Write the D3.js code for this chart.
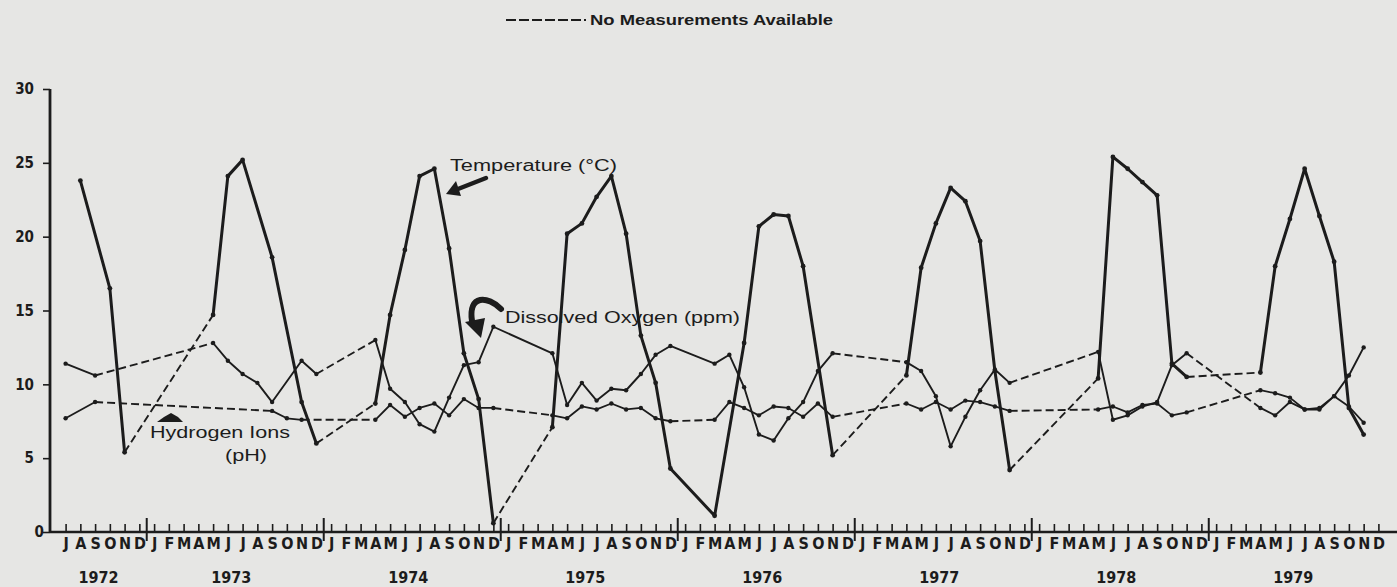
<!DOCTYPE html>
<html><head><meta charset="utf-8">
<script src="https://cdn.jsdelivr.net/npm/d3@7/dist/d3.min.js"></script>
<style>html,body{margin:0;padding:0;background:#e6e6e4;} svg{display:block}</style>
</head><body>
<svg id="c" width="1397" height="587"></svg>
<script>
// ---------- categories / ticks ----------
const years = [1972, 1973, 1974, 1975, 1976, 1977, 1978, 1979];
const monthLetters = ["J","F","M","A","M","J","J","A","S","O","N","D"];
const startMonth = "1972-07";
const yTicks = [0, 5, 10, 15, 20, 25, 30];

// ---------- Temperature (°C) ----------
const tempMonths = ["1972-08","1972-10","1972-11","1973-05","1973-06","1973-07","1973-09","1973-11","1973-12",
  "1974-04","1974-05","1974-06","1974-07","1974-08","1974-09","1974-10","1974-11","1974-12",
  "1975-04","1975-05","1975-06","1975-07","1975-08","1975-09","1975-10","1975-11","1975-12",
  "1976-03","1976-05","1976-06","1976-07","1976-08","1976-09","1976-11",
  "1977-04","1977-05","1977-06","1977-07","1977-08","1977-09","1977-10","1977-11",
  "1978-05","1978-06","1978-07","1978-08","1978-09","1978-10","1978-11",
  "1979-04","1979-05","1979-06","1979-07","1979-08","1979-09","1979-10","1979-11"];
const tempValues = [23.8,16.5,5.4,14.7,24.1,25.2,18.6,8.8,6.0,
  8.7,14.7,19.1,24.1,24.6,19.2,12.1,9.0,0.6,
  7.1,20.2,20.9,22.7,24.1,20.2,13.3,10.1,4.3,
  1.1,12.8,20.7,21.5,21.4,18.0,5.2,
  10.6,17.9,20.9,23.3,22.4,19.7,10.9,4.2,
  10.4,25.4,24.6,23.7,22.8,11.4,10.5,
  10.8,18.0,21.2,24.6,21.4,18.3,8.4,6.6];
const tempNoDataBefore = ["1973-05","1974-04","1975-04","1977-04","1978-05","1979-04"];

// ---------- Dissolved Oxygen (ppm) ----------
const doMonths = ["1972-07","1972-09","1973-05","1973-06","1973-07","1973-08","1973-09","1973-11","1973-12",
  "1974-04","1974-05","1974-06","1974-07","1974-08","1974-09","1974-10","1974-11","1974-12",
  "1975-04","1975-05","1975-06","1975-07","1975-08","1975-09","1975-10","1975-11","1975-12",
  "1976-03","1976-04","1976-05","1976-06","1976-07","1976-08","1976-09","1976-10","1976-11",
  "1977-04","1977-05","1977-06","1977-07","1977-08","1977-09","1977-10","1977-11",
  "1978-05","1978-06","1978-07","1978-08","1978-09","1978-10","1978-11",
  "1979-04","1979-05","1979-06","1979-07","1979-08","1979-09","1979-10","1979-11"];
const doValues = [11.4,10.6,12.8,11.6,10.7,10.1,8.8,11.6,10.7,
  13.0,9.7,8.8,7.3,6.8,9.1,11.3,11.5,13.9,
  12.1,8.6,10.1,8.9,9.7,9.6,10.7,12.0,12.6,
  11.4,12.0,9.8,6.6,6.2,7.7,8.8,10.9,12.1,
  11.5,10.9,9.2,5.8,7.8,9.6,11.0,10.1,
  12.2,7.6,7.9,8.5,8.8,11.3,12.1,
  8.4,7.9,8.8,8.3,8.3,9.2,10.6,12.5];
const doNoDataBefore = ["1973-05","1974-04","1977-04","1978-05","1979-04"];

// ---------- Hydrogen Ions (pH) ----------
const phMonths = ["1972-07","1972-09","1973-09","1973-10","1973-11",
  "1974-04","1974-05","1974-06","1974-07","1974-08","1974-09","1974-10","1974-11","1974-12",
  "1975-04","1975-05","1975-06","1975-07","1975-08","1975-09","1975-10","1975-11","1975-12",
  "1976-03","1976-04","1976-05","1976-06","1976-07","1976-08","1976-09","1976-10","1976-11",
  "1977-04","1977-05","1977-06","1977-07","1977-08","1977-09","1977-10","1977-11",
  "1978-05","1978-06","1978-07","1978-08","1978-09","1978-10","1978-11",
  "1979-04","1979-05","1979-06","1979-07","1979-08","1979-09","1979-10","1979-11"];
const phValues = [7.7,8.8,8.2,7.7,7.6,
  7.6,8.6,7.8,8.4,8.7,7.9,9.0,8.4,8.4,
  7.9,7.7,8.5,8.3,8.7,8.3,8.4,7.7,7.5,
  7.6,8.8,8.4,7.9,8.5,8.4,7.8,8.7,7.8,
  8.7,8.3,8.8,8.3,8.9,8.8,8.5,8.2,
  8.3,8.5,8.1,8.6,8.7,7.9,8.1,
  9.6,9.4,9.1,8.3,8.4,9.2,8.5,7.4];
const phNoDataBefore = ["1973-09","1974-04","1975-04","1976-03","1977-04","1978-05","1979-04"];

// ---------- build month categories ----------
const months = [];
years.forEach(y => monthLetters.forEach((l, i) => {
  const key = y + "-" + String(i + 1).padStart(2, "0");
  if (key >= startMonth) months.push({key, letter: l, year: y});
}));

const ink = "#1c1c1c";
const svg = d3.select("#c");
svg.append("rect").attr("width", 1397).attr("height", 587).attr("fill", "#e6e6e4");

const x = d3.scalePoint().domain(months.map(d => d.key)).range([65.6, 1378.4]);
const y = d3.scaleLinear().domain([0, 30]).range([532, 89]);
const step = x.step();
const axisFont = "'DejaVu Sans Condensed','DejaVu Sans',sans-serif";

// ---------- axes ----------
const gx = svg.append("g").attr("transform", "translate(0,532)")
  .call(d3.axisBottom(x).tickSizeInner(-8).tickSizeOuter(0).tickPadding(6)
    .tickFormat(k => months.find(m => m.key === k).letter));
gx.select(".domain").remove();
gx.selectAll(".tick line").attr("stroke", ink).attr("stroke-width", 1.6);
gx.selectAll(".tick text").attr("fill", ink)
  .style("font-family", axisFont).style("font-weight", "bold").style("font-size", "16px");
svg.append("line").attr("x1", 50).attr("x2", 1397).attr("y1", 532).attr("y2", 532)
  .attr("stroke", ink).attr("stroke-width", 2.6);

// year dividers and year labels
years.forEach(yr => {
  const dec = yr + "-12";
  if (yr < 1979) {
    const xb = x(dec) + step / 2;
    svg.append("line").attr("x1", xb).attr("x2", xb).attr("y1", 518).attr("y2", 541)
      .attr("stroke", ink).attr("stroke-width", 2);
  }
  const ms = months.filter(m => m.year === yr);
  const cx = (x(ms[0].key) + x(ms[ms.length - 1].key)) / 2 - 4;
  svg.append("text").attr("x", cx).attr("y", 583).attr("text-anchor", "middle")
    .attr("fill", ink).style("font-family", axisFont)
    .style("font-weight", "bold").style("font-size", "16px").text(yr);
});

const gy = svg.append("g").attr("transform", "translate(50,0)")
  .call(d3.axisLeft(y).tickValues(yTicks).tickSizeInner(7).tickSizeOuter(0).tickPadding(9)
    .tickFormat(d3.format("d")));
gy.select(".domain").remove();
gy.selectAll(".tick line").attr("stroke", ink).attr("stroke-width", 1.6);
gy.selectAll(".tick text").attr("fill", ink)
  .style("font-family", axisFont).style("font-weight", "bold").style("font-size", "15px")
  .attr("dx", d => d === 0 ? 10 : 0);
svg.append("line").attr("x1", 50).attr("x2", 50).attr("y1", 89).attr("y2", 533)
  .attr("stroke", ink).attr("stroke-width", 2.8);

// ---------- series ----------
function drawSeries(ms, vs, gaps, width, r) {
  const pts = ms.map((m, i) => ({m, v: vs[i], gap: gaps.includes(m)}));
  const line = d3.line().x(d => x(d.m)).y(d => y(d.v));
  let run = [pts[0]];
  const runs = [];
  for (let i = 1; i < pts.length; i++) {
    if (pts[i].gap) {
      runs.push(run);
      svg.append("path").attr("d", line([pts[i - 1], pts[i]])).attr("fill", "none")
        .attr("stroke", ink).attr("stroke-width", 1.9).attr("stroke-dasharray", "8,4");
      run = [pts[i]];
    } else run.push(pts[i]);
  }
  runs.push(run);
  runs.forEach(rn => {
    if (rn.length > 1)
      svg.append("path").attr("d", line(rn)).attr("fill", "none").attr("stroke", ink)
        .attr("stroke-width", width).attr("stroke-linejoin", "round");
  });
  svg.append("g").selectAll("circle").data(pts).join("circle")
    .attr("cx", d => x(d.m)).attr("cy", d => y(d.v)).attr("r", r).attr("fill", ink);
}
drawSeries(phMonths, phValues, phNoDataBefore, 1.8, 2.2);
drawSeries(doMonths, doValues, doNoDataBefore, 1.9, 2.2);
drawSeries(tempMonths, tempValues, tempNoDataBefore, 3, 2.4);

// ---------- legend / annotations ----------
svg.append("line").attr("x1", 506).attr("x2", 586).attr("y1", 20).attr("y2", 20)
  .attr("stroke", ink).attr("stroke-width", 2).attr("stroke-dasharray", "10,3");
const annot = (t, xx, yy, w, size, weight) => svg.append("text").attr("x", xx).attr("y", yy)
  .attr("fill", ink).attr("textLength", w).attr("lengthAdjust", "spacingAndGlyphs")
  .style("font-family", "'Liberation Sans',Arial,sans-serif").style("font-size", size + "px")
  .style("font-weight", weight).text(t);
annot("No Measurements Available", 590, 25, 243, 15, "bold");
annot("Temperature (°C)", 450, 171, 167, 16, "normal");
annot("Dissolved Oxygen (ppm)", 505, 323, 235, 16, "normal");
annot("Hydrogen Ions", 150, 438, 140, 16, "normal");
annot("(pH)", 225, 461, 42, 16, "normal");

// arrows
svg.append("line").attr("x1", 486).attr("y1", 178).attr("x2", 458).attr("y2", 189)
  .attr("stroke", ink).attr("stroke-width", 4.5).attr("stroke-linecap", "round");
svg.append("path").attr("d", "M446,194 L456,181 L461,196 Z").attr("fill", ink);
svg.append("path").attr("d", "M501,309 C488,296 468,294 472,321").attr("fill", "none")
  .attr("stroke", ink).attr("stroke-width", 6).attr("stroke-linecap", "round");
svg.append("path").attr("d", "M481,338 L465,322 L485,318 Z").attr("fill", ink);
svg.append("path").attr("d", "M157,422 L183,422 L178,417 L171,413 L164,417 Z").attr("fill", ink);
</script>
</body></html>
